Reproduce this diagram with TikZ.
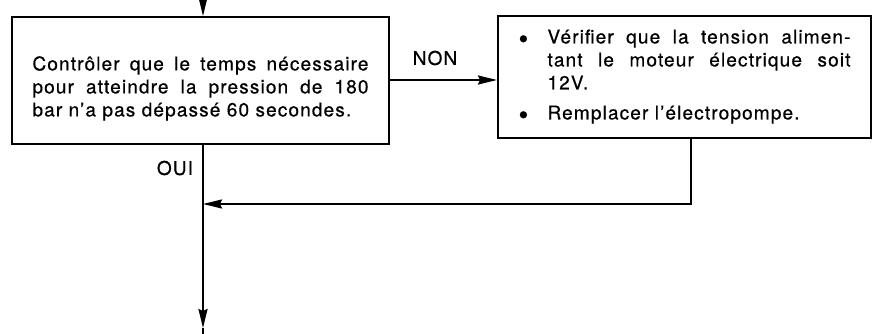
\documentclass[tikz,border=0pt]{standalone}
\usepackage{fontspec}
\usetikzlibrary{arrows.meta}
\newfontfamily\heros[LetterSpace=6, FakeBold=0.6]{TeX Gyre Heros}

\begin{document}
\begin{tikzpicture}[
    x=1pt,
    y=-1pt,
    box/.style={draw=black, line width=2pt, inner sep=0pt, align=justify,
      font=\heros\fontsize{19}{23}\selectfont},
    wire/.style={draw=black, line width=2pt},
    flow/.style={wire, -{Stealth[length=19pt, width=9pt, inset=2pt]}},
    tag/.style={font=\heros\fontsize{19}{22}\selectfont, inner sep=0pt}
  ]
    \useasboundingbox (0,0) rectangle (872,334);
    \newcommand{\puce}[1]{%
      {\hangindent=29pt\hangafter=1\noindent
       \makebox[29pt][l]{\raisebox{-5pt}{\fontsize{28}{0}\selectfont\textbullet}}#1\par}}

    % boxes
    \node[box, minimum width=377pt, minimum height=127pt, text width=336pt]
      (check) at (200.5,80.5) {\hyphenpenalty=10000
      \rule{0pt}{30pt}Contrôler que le temps nécessaire\linebreak
      pour atteindre la pression de 180\linebreak
      bar n’a pas dépassé 60 secondes.};
    \node[box, minimum width=373pt, minimum height=122pt, text width=332pt,
      xshift=-4pt] (fix) at (688.5,77) {\hyphenpenalty=10000
      \puce{Vérifier que la tension alimen-\linebreak
        tant le moteur électrique soit\linebreak 12V.}
      \vspace{7pt}
      \puce{Remplacer l’électropompe.}};

    % fixed points of the lines
    \coordinate (in) at (203,0);
    \coordinate (nonrow) at (440,80);
    \coordinate (join) at (203,204);
    \coordinate (bend) at (691,204);
    \coordinate (tip) at (203,328);
    \coordinate (out) at (203,334);

    % labels
    \node[tag] (non) at (435,58) {NON};
    \node[tag] (oui) at (175,168) {OUI};

    % connectors
    \draw[flow] (in) -- (check.north -| in);
    \draw[flow] (check.east |- nonrow) -- (fix.west |- nonrow);
    \draw[wire] (check.south -| join) -- (join);
    \draw[flow] (join) -- (tip);
    \draw[wire] (tip) -- (out);
    \draw[flow] (fix.south -| bend) -- (bend) -- (join);
  \end{tikzpicture}
\end{document}
